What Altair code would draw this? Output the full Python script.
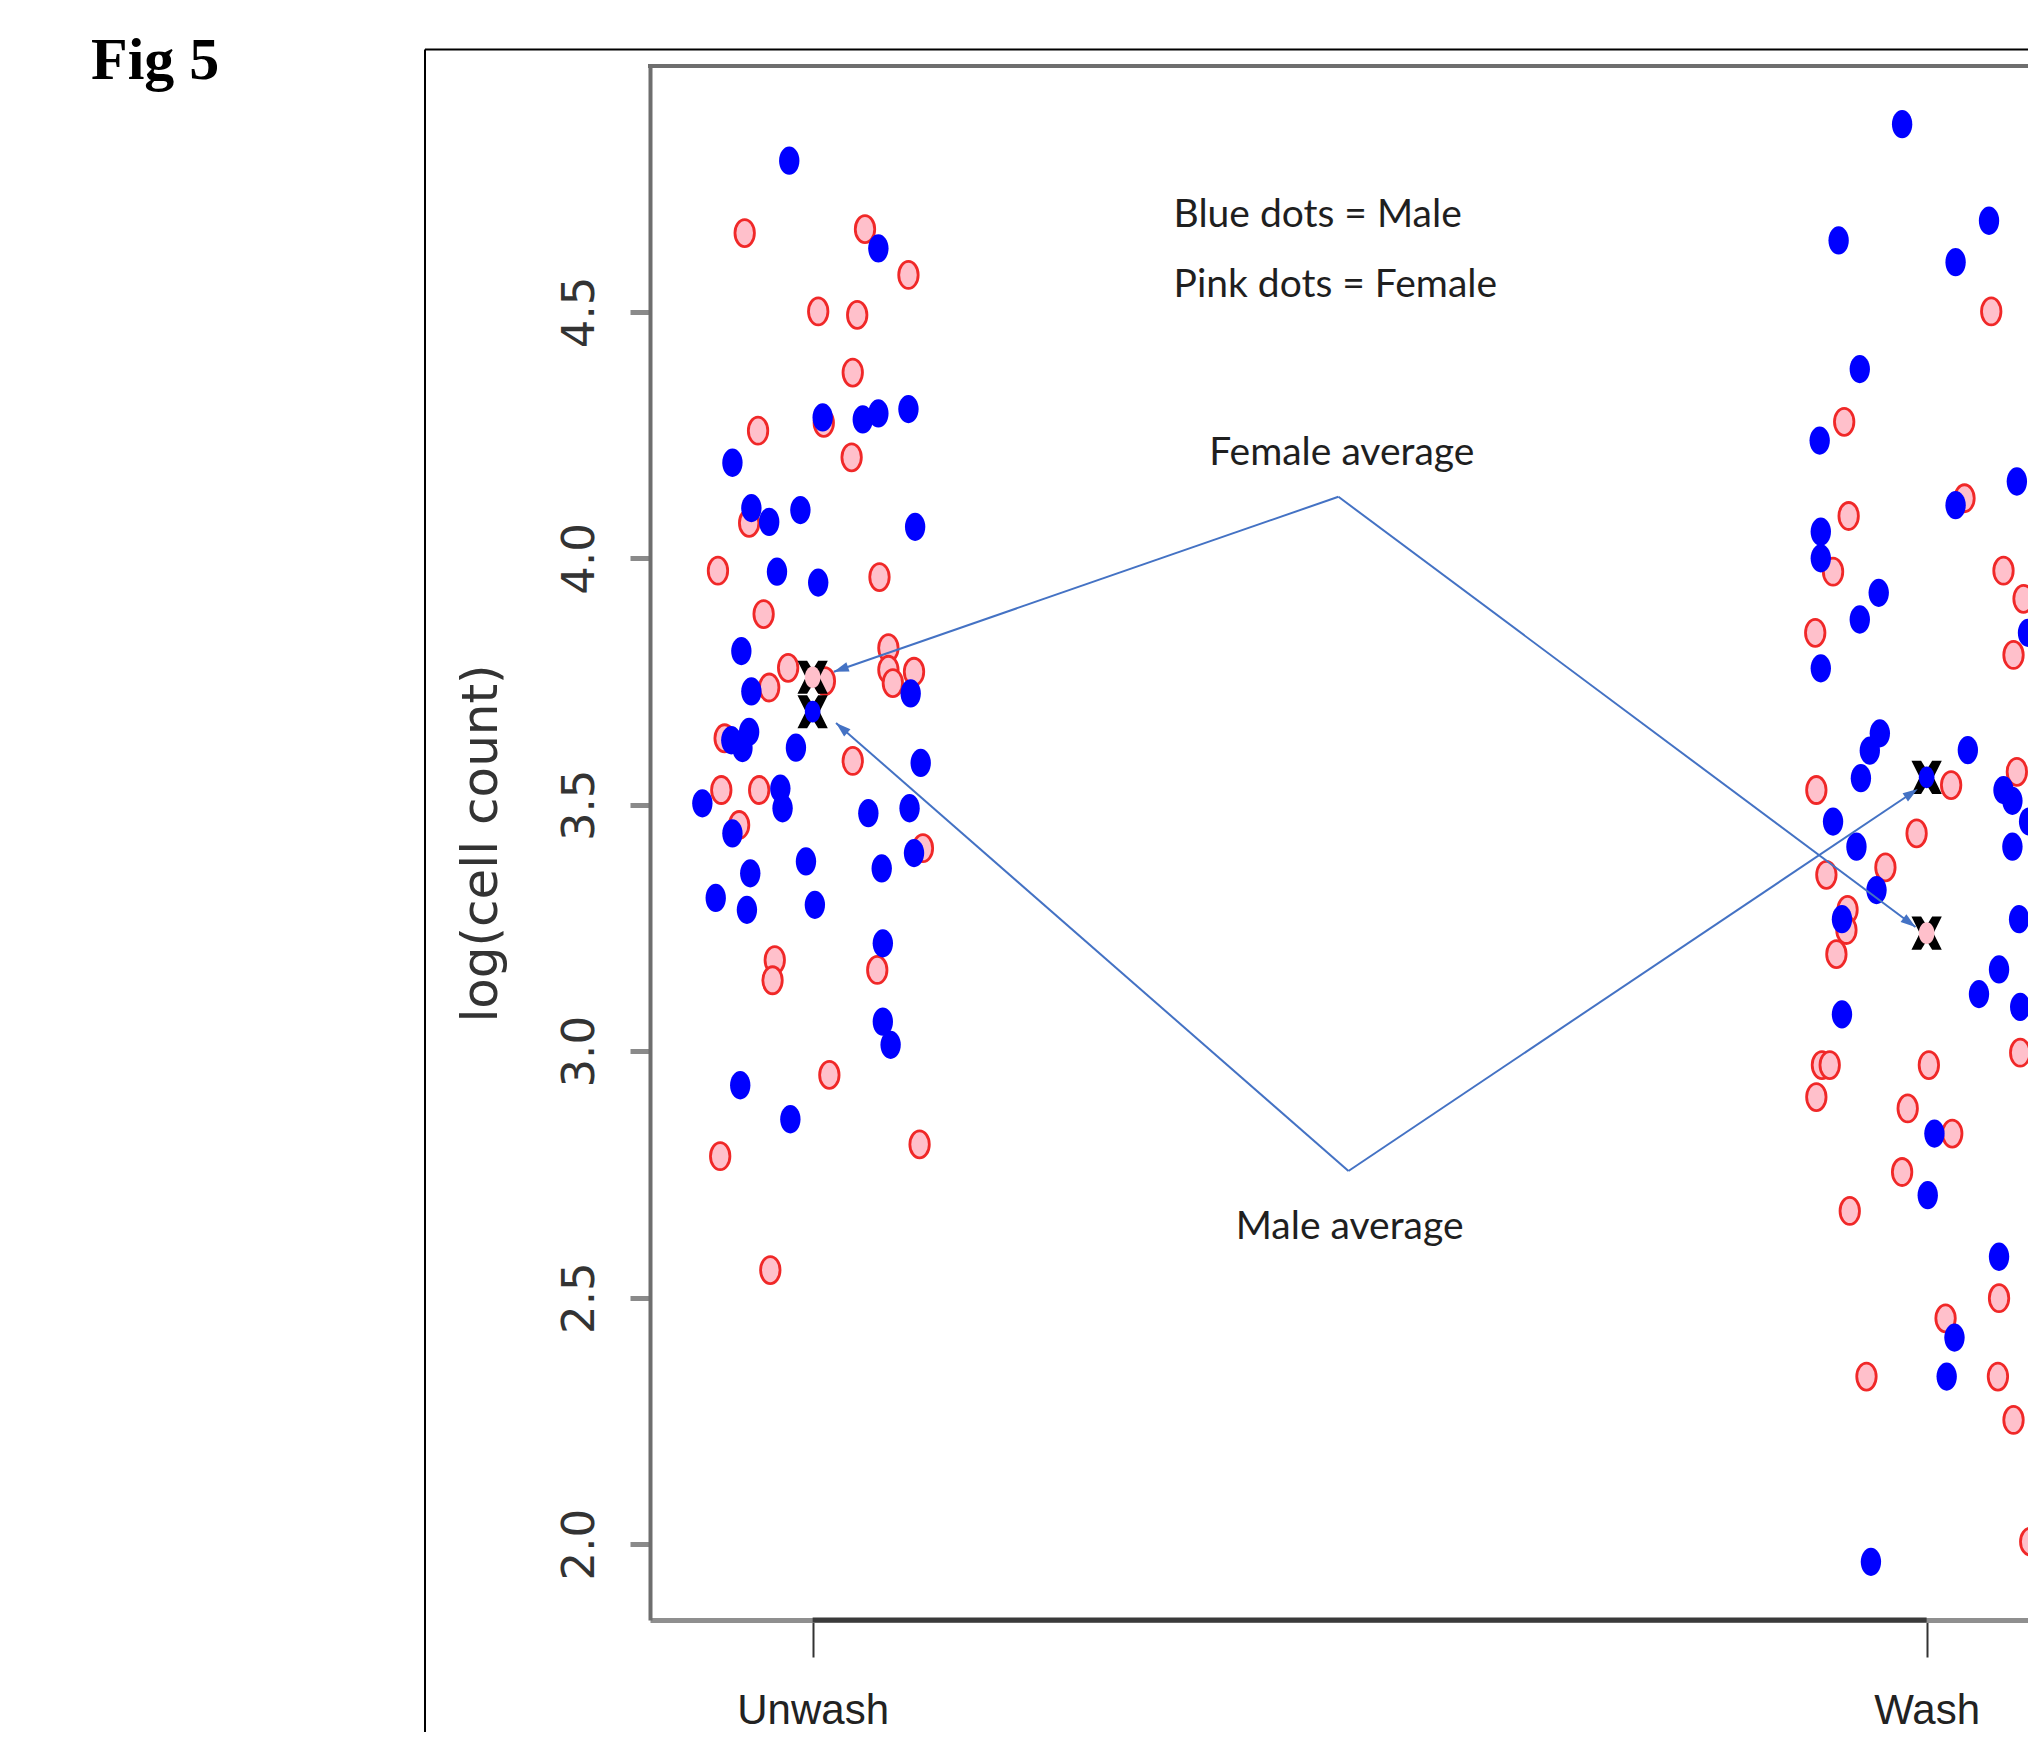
import math
import altair as alt
import pandas as pd

# ---------------- data ----------------
groups = ["Unwash", "Wash"]
group_pos = [1, 2]

# Unwash, Male (blue): horizontal jitter offset and log(cell count)
uw_m_dx = [-0.021, 0.059, 0.009, 0.045, 0.059, 0.086, -0.072, -0.055, -0.011, -0.039, 0.092,
           -0.032, 0.005, -0.064, -0.055, 0.088, -0.057, -0.063, -0.073, -0.015, 0.097,
           -0.029, -0.027, -0.099, 0.050, 0.087, -0.072, 0.091, -0.006, 0.062, -0.056,
           -0.087, -0.059, 0.002, 0.063, 0.063, 0.070, -0.065, -0.020]
uw_m_val = [4.807, 4.629, 4.286, 4.282, 4.294, 4.303, 4.194, 4.102, 4.098, 4.074, 4.064,
            3.973, 3.951, 3.812, 3.730, 3.726, 3.648, 3.615, 3.631, 3.616, 3.585,
            3.533, 3.493, 3.503, 3.483, 3.493, 3.442, 3.402, 3.385, 3.371, 3.361,
            3.311, 3.287, 3.297, 3.219, 3.060, 3.013, 2.931, 2.862]

# Unwash, Female (pink)
uw_f_dx = [-0.061, 0.047, 0.086, 0.005, 0.040, 0.036, 0.010, -0.049, 0.035, -0.057, -0.085,
           0.060, -0.044, 0.068, -0.022, 0.068, 0.072, 0.091, -0.039, 0.011, -0.079,
           0.036, -0.082, -0.048, -0.066, 0.099, -0.034, -0.036, 0.058, 0.015, -0.083,
           0.096, -0.038]
uw_f_val = [4.660, 4.668, 4.575, 4.501, 4.494, 4.377, 4.275, 4.259, 4.205, 4.072, 3.975,
            3.962, 3.887, 3.818, 3.778, 3.774, 3.747, 3.770, 3.738, 3.751, 3.635,
            3.589, 3.530, 3.530, 3.459, 3.412, 3.185, 3.144, 3.165, 2.952, 2.787,
            2.811, 2.556]

# Wash, Male (blue)
w_m_dx = [-0.022, -0.079, 0.056, 0.026, -0.060, -0.096, 0.081, 0.026, -0.095, -0.095, -0.043,
          -0.060, 0.091, -0.095, -0.042, -0.051, -0.059, 0.037, 0.069, 0.077, 0.092,
          -0.084, -0.063, 0.077, -0.045, -0.076, 0.083, 0.065, 0.047, 0.084, -0.076,
          0.007, 0.001, 0.065, 0.025, 0.018, -0.050]
w_m_val = [4.881, 4.645, 4.685, 4.601, 4.384, 4.239, 4.156, 4.108, 4.054, 4.000, 3.930,
           3.876, 3.849, 3.777, 3.645, 3.610, 3.554, 3.611, 3.530, 3.508, 3.466,
           3.466, 3.415, 3.415, 3.327, 3.268, 3.268, 3.166, 3.116, 3.090, 3.075,
           2.833, 2.708, 2.583, 2.419, 2.340, 1.964]

# Wash, Female (pink)
w_f_dx = [0.058, -0.074, 0.034, -0.070, -0.084, 0.069, 0.087, -0.100, 0.078, -0.099, 0.022,
          0.081, -0.009, -0.090, -0.037, -0.071, -0.072, -0.081, -0.094, -0.087, 0.002,
          0.084, -0.099, -0.017, 0.023, -0.022, -0.069, 0.065, 0.017, -0.054, 0.064,
          0.078, 0.093]
w_f_val = [4.501, 4.277, 4.122, 4.086, 3.973, 3.975, 3.918, 3.849, 3.804, 3.530, 3.540,
           3.567, 3.442, 3.358, 3.373, 3.287, 3.246, 3.197, 2.972, 2.972, 2.972,
           2.997, 2.907, 2.884, 2.833, 2.755, 2.676, 2.499, 2.458, 2.340, 2.340,
           2.252, 2.005]

y_ticks = [2.0, 2.5, 3.0, 3.5, 4.0, 4.5]
y_title = "log(cell count)"
fig_label = "Fig 5"

# annotation texts (data coordinates)
legend_texts = ["Blue dots = Male", "Pink dots = Female"]
legend_x = [1.324, 1.324]
legend_y = [4.672, 4.531]
avg_texts = ["Female average", "Male average"]
avg_x = [1.475, 1.482]
avg_y = [4.190, 2.619]

# annotation arrows (from label apex to the group averages)
arrow_x0 = [1.472, 1.472, 1.481, 1.481]
arrow_y0 = [4.125, 4.125, 2.757, 2.757]
arrow_x1 = [1.019, 1.990, 1.021, 1.992]
arrow_y1 = [3.770, 3.252, 3.666, 3.532]

# ---------------- layout / style ----------------
W, H = 1378, 1554
X_DOMAIN = [0.854, 2.091]
Y_DOMAIN = [1.846, 4.999]
PX_X = W / (X_DOMAIN[1] - X_DOMAIN[0])
PX_Y = H / (Y_DOMAIN[1] - Y_DOMAIN[0])

BLUE = "#0000FF"
PINK = "#FFC0CB"
RED = "#F02828"
ARROW = "#4472C4"
ANNOT_FONT = "Lato"

ELL = "M-0.72,0A0.72,1 0 1,1 0.72,0A0.72,1 0 1,1 -0.72,0Z"
XSHAPE = ("M-1.1,-1.2L-0.4,-1.2L0,-0.55L0.4,-1.2L1.1,-1.2L0.5,0L1.1,1.2L0.4,1.2"
          "L0,0.55L-0.4,1.2L-1.1,1.2L-0.5,0Z")
HEAD = "M0,0L0.55,1.7L-0.55,1.7Z"

xs = alt.Scale(domain=X_DOMAIN, nice=False, zero=False)
ys = alt.Scale(domain=Y_DOMAIN, nice=False, zero=False)

rows = []
for grp, pos, sex, dxs, vals in [
    (groups[0], group_pos[0], "Male", uw_m_dx, uw_m_val),
    (groups[0], group_pos[0], "Female", uw_f_dx, uw_f_val),
    (groups[1], group_pos[1], "Male", w_m_dx, w_m_val),
    (groups[1], group_pos[1], "Female", w_f_dx, w_f_val),
]:
    for d, v in zip(dxs, vals):
        rows.append({"group": grp, "pos": pos, "sex": sex, "jitter": d, "value": v})
pts = pd.DataFrame(rows)

x_axis = alt.Axis(values=group_pos, labelExpr="datum.value == 1 ? 'Unwash' : 'Wash'",
                  tickSize=37, tickWidth=2, tickColor="#333333",
                  domainColor="#8f8f8f", domainWidth=5,
                  labelFont="Liberation Sans", labelFontSize=42, labelColor="#222222",
                  labelBaseline="alphabetic", labelAlign="center", labelAngle=0,
                  labelPadding=66, labelFlush=False, labelOverlap=False,
                  grid=False, title=None)
y_axis = alt.Axis(values=y_ticks, format=".1f", labelAngle=270, labelAlign="center",
                  labelBaseline="middle", labelPadding=51, tickSize=20, tickWidth=5,
                  tickColor="#8a8a8a", domainColor="#6e6e6e", domainWidth=4,
                  labelFont="DejaVu Sans", labelFontSize=45, labelColor="#333333",
                  labelOverlap=False, grid=False,
                  title=y_title, titleFont="DejaVu Sans", titleFontSize=50,
                  titleFontWeight="normal", titleColor="#333333", titleAngle=270,
                  titleAlign="center", titleBaseline="middle", titleX=-169, titleY=H / 2)


def X(field):
    return alt.X(field, scale=xs, axis=x_axis)


def Y(field):
    return alt.Y(field, scale=ys, axis=y_axis)


base = alt.Chart(pts).transform_calculate(xj="datum.pos + datum.jitter")

pink_pts = base.transform_filter("datum.sex == 'Female'").mark_point(
    shape=ELL, size=729, fill=PINK, stroke=RED, strokeWidth=2.8,
    opacity=1, fillOpacity=1, clip=True
).encode(x=X("xj:Q"), y=Y("value:Q"))

blue_pts = base.transform_filter("datum.sex == 'Male'").mark_point(
    shape=ELL, size=800, filled=True, color=BLUE, opacity=1, clip=True
).encode(x=X("xj:Q"), y=Y("value:Q"))

means = alt.Chart(pts).transform_aggregate(mean_value="mean(value)", groupby=["pos", "sex"])
mean_x = means.mark_point(shape=XSHAPE, size=760, filled=True, color="#000000", opacity=1).encode(
    x=X("pos:Q"), y=Y("mean_value:Q"))
mean_dot = means.mark_point(shape=ELL, size=470, filled=True, opacity=1).encode(
    x=X("pos:Q"), y=Y("mean_value:Q"),
    color=alt.Color("sex:N", scale=alt.Scale(domain=["Male", "Female"], range=[BLUE, PINK]),
                    legend=None))

arrows_df = pd.DataFrame({"x0": arrow_x0, "y0": arrow_y0, "x1": arrow_x1, "y1": arrow_y1})
arrows_df["ang"] = [
    math.degrees(math.atan2((b - a) * PX_X, (d - c) * PX_Y)) % 360
    for a, b, c, d in zip(arrow_x0, arrow_x1, arrow_y0, arrow_y1)
]
arrow_lines = alt.Chart(arrows_df).mark_rule(color=ARROW, strokeWidth=2).encode(
    x=X("x0:Q"), y=Y("y0:Q"), x2="x1:Q", y2="y1:Q")
arrow_heads = alt.Chart(arrows_df).mark_point(shape=HEAD, size=310, filled=True,
                                              color=ARROW, opacity=1).encode(
    x=X("x1:Q"), y=Y("y1:Q"), angle=alt.Angle("ang:Q", scale=None))

legend_df = pd.DataFrame({"t": legend_texts, "x": legend_x, "y": legend_y})
legend_txt = alt.Chart(legend_df).mark_text(font=ANNOT_FONT, fontSize=39, color="#1f1f1f",
                                            align="left", baseline="alphabetic").encode(
    x=X("x:Q"), y=Y("y:Q"), text="t:N")
avg_df = pd.DataFrame({"t": avg_texts, "x": avg_x, "y": avg_y})
avg_txt = alt.Chart(avg_df).mark_text(font=ANNOT_FONT, fontSize=39, color="#1f1f1f",
                                      align="center", baseline="alphabetic").encode(
    x=X("x:Q"), y=Y("y:Q"), text="t:N")

# decorations: outer frame, box top, dark axis segment between ticks
one = alt.Data(values=[{"a": 1}])
frame_v = alt.Chart(one).mark_rule(color="#000000", strokeWidth=2).encode(
    x=alt.value(-225), y=alt.value(-16.5), y2=alt.value(H + 400))
frame_h = alt.Chart(one).mark_rule(color="#000000", strokeWidth=2).encode(
    x=alt.value(-225), x2=alt.value(W + 200), y=alt.value(-16.5))
box_top = alt.Chart(one).mark_rule(color="#6e6e6e", strokeWidth=4).encode(
    x=alt.value(-2), x2=alt.value(W + 10), y=alt.value(0))
seg_df = pd.DataFrame({"a": [group_pos[0]], "b": [group_pos[1]]})
axis_seg = alt.Chart(seg_df).mark_rule(color="#3a3a3a", strokeWidth=5).encode(
    x=X("a:Q"), x2="b:Q", y=alt.value(H))

fig_df = pd.DataFrame({"t": [fig_label]})
fig_txt = alt.Chart(fig_df).mark_text(font="Liberation Serif", fontWeight="bold", fontSize=60,
                                      color="#000000", align="left", baseline="alphabetic").encode(
    x=alt.value(-559), y=alt.value(13), text="t:N")

chart = alt.layer(
    frame_v, frame_h, box_top, pink_pts, blue_pts, axis_seg,
    arrow_lines, mean_x, mean_dot, arrow_heads, legend_txt, avg_txt, fig_txt
).properties(
    width=W, height=H,
    autosize=alt.AutoSizeParams(type="none"),
    padding={"left": 642, "top": 58, "right": 0, "bottom": 112},
).configure_view(stroke="transparent")

chart.save("out.html", embed_options={"renderer": "svg", "actions": False})
